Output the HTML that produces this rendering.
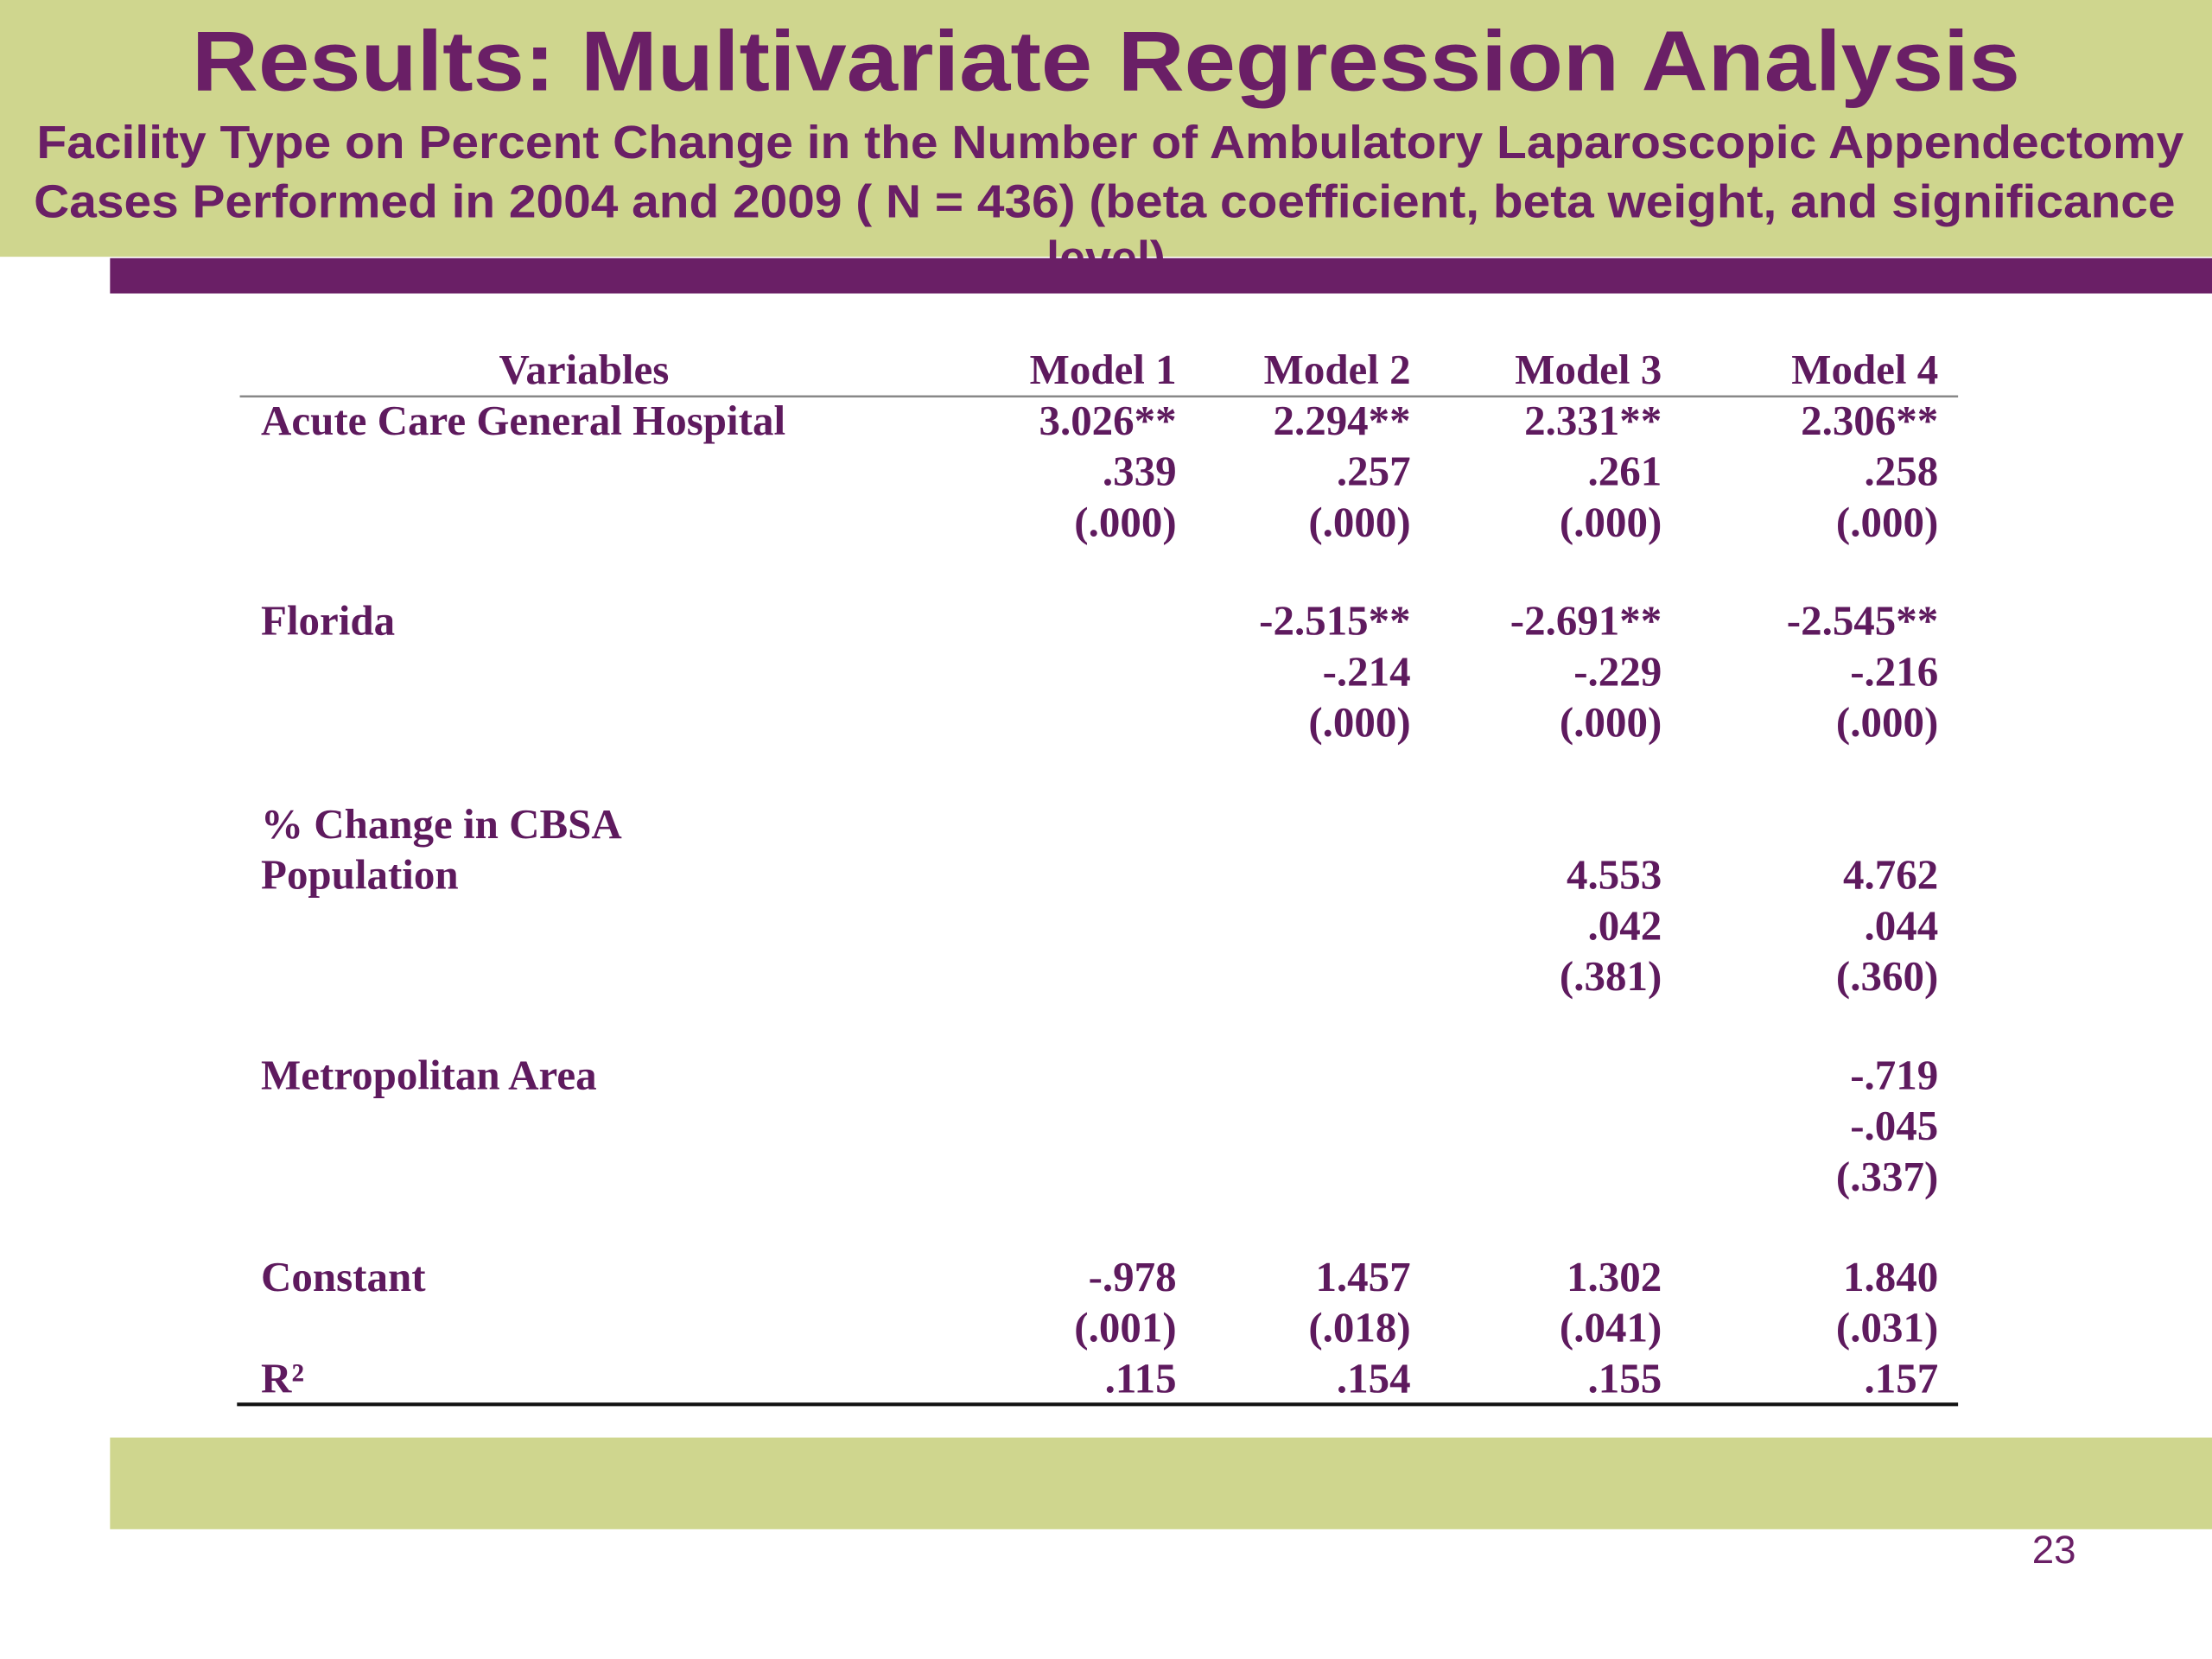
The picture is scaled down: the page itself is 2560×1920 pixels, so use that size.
<!DOCTYPE html>
<html><head><meta charset="utf-8"><style>
html,body{margin:0;padding:0;background:#fff;}
svg{display:block;}
.ser{font-family:"Liberation Serif",serif;font-weight:bold;fill:#5e1a5e;font-size:30px;}
</style></head><body>
<svg id="slide" width="2560" height="1920" viewBox="0 0 1568 1176" xmlns="http://www.w3.org/2000/svg">
<rect x="0" y="0" width="1568" height="182" fill="#cfd68e"/>
<text x="136" y="64" textLength="1296" lengthAdjust="spacingAndGlyphs" font-family="Liberation Sans, sans-serif" font-weight="bold" font-size="60" fill="#6a1f66">Results: Multivariate Regression Analysis</text>
<text x="26" y="112" textLength="1522" lengthAdjust="spacingAndGlyphs" font-family="Liberation Sans, sans-serif" font-weight="bold" font-size="33" fill="#6a1f66">Facility Type on Percent Change in the Number of Ambulatory Laparoscopic Appendectomy</text>
<text x="24" y="154" textLength="1518" lengthAdjust="spacingAndGlyphs" font-family="Liberation Sans, sans-serif" font-weight="bold" font-size="33" fill="#6a1f66">Cases Performed in 2004 and 2009 ( N = 436) (beta coefficient, beta weight, and significance</text>
<text x="784" y="194" text-anchor="middle" font-family="Liberation Sans, sans-serif" font-weight="bold" font-size="33" fill="#6a1f66">level)</text>
<rect x="78" y="183" width="1490" height="25" fill="#6a1f66"/>
<g id="table"></g>
<rect x="78" y="1019" width="1490" height="65" fill="#cfd68e"/>
<text x="1456" y="1108" text-anchor="middle" font-family="Liberation Sans, sans-serif" font-size="28" fill="#6a1f66">23</text>
</svg>
<script>
const headers = ["Variables","Model 1","Model 2","Model 3","Model 4"];
const rowLabels = [["Acute Care General Hospital",308],["Florida",450],["% Change in CBSA",594],["Population",630],["Metropolitan Area",772],["Constant",915],["R²",987]];
const colRight = [834,1000,1178,1374];
const hospital = [["3.026**",".339","(.000)"],["2.294**",".257","(.000)"],["2.331**",".261","(.000)"],["2.306**",".258","(.000)"]];
const florida = [null,["-2.515**","-.214","(.000)"],["-2.691**","-.229","(.000)"],["-2.545**","-.216","(.000)"]];
const cbsa = [null,null,["4.553",".042","(.381)"],["4.762",".044","(.360)"]];
const metro = [null,null,null,["-.719","-.045","(.337)"]];
const constant = [["-.978","(.001)"],["1.457","(.018)"],["1.302","(.041)"],["1.840","(.031)"]];
const rsq = [".115",".154",".155",".157"];
const NS="http://www.w3.org/2000/svg";
const g=document.getElementById('table');
function txt(s,x,y,anchor,name){
  const t=document.createElementNS(NS,'text');
  t.setAttribute('x',x);t.setAttribute('y',y);
  t.setAttribute('class','ser');
  if(anchor)t.setAttribute('text-anchor',anchor);
  
  
  t.textContent=s;g.appendChild(t);
}
txt(headers[0],414,272,'middle','header-variables');
for(let i=0;i<4;i++) txt(headers[i+1],colRight[i],272,'end','header-model-'+(i+1));
function line(x1,x2,y,w,c,name){
  const l=document.createElementNS(NS,'line');
  l.setAttribute('x1',x1);l.setAttribute('x2',x2);l.setAttribute('y1',y);l.setAttribute('y2',y);
  l.setAttribute('stroke',c);l.setAttribute('stroke-width',w);
  
  
  g.appendChild(l);
}
line(170,1388,281,1.5,'#888','header-rule');
line(168,1388,995.5,2.5,'#111','bottom-rule');
rowLabels.forEach((r,i)=>txt(r[0],185,r[1],null,'row-label-'+i));
function block(arr,y0,name){
  arr.forEach((vals,c)=>{ if(!vals)return; vals.forEach((v,k)=>txt(v,colRight[c],y0+k*36,'end',name+'-m'+(c+1)+'-'+k)); });
}
block(hospital,308,'hospital');
block(florida,450,'florida');
block(cbsa,630,'cbsa');
block(metro,772,'metro');
block(constant,915,'constant');
rsq.forEach((v,c)=>txt(v,colRight[c],987,'end','r-squared-m'+(c+1)));
</script>
</body></html>
